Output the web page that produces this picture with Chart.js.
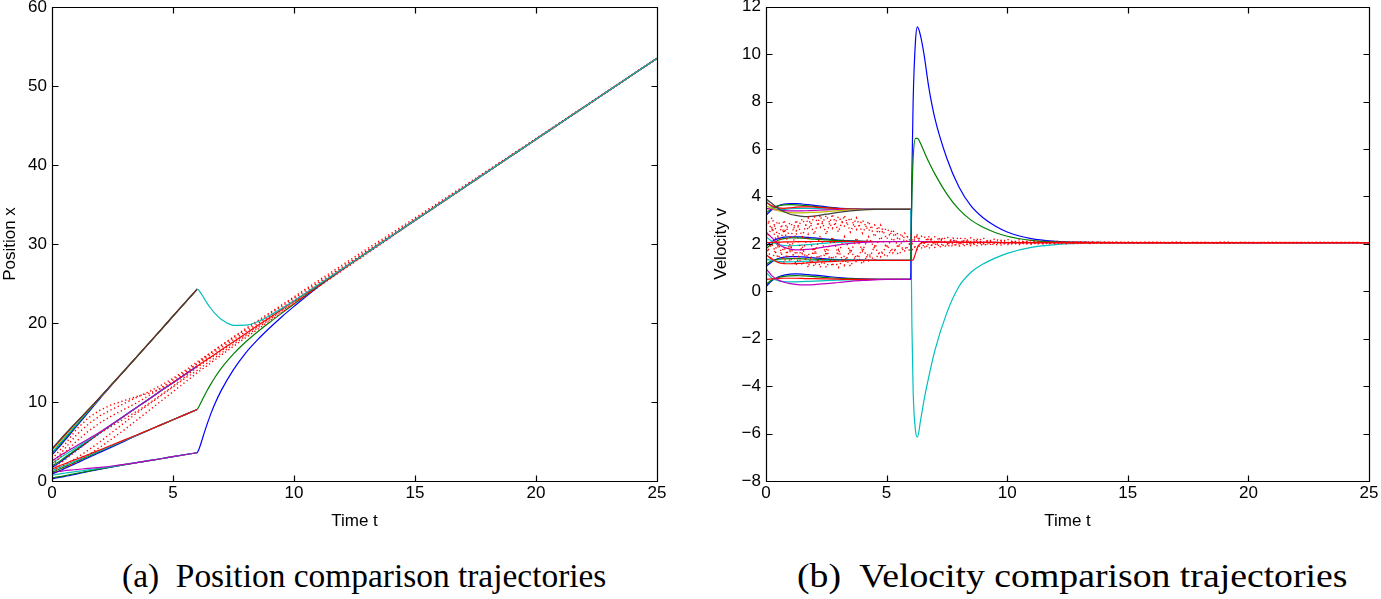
<!DOCTYPE html>
<html>
<head>
<meta charset="utf-8">
<script src="https://cdn.jsdelivr.net/npm/chart.js@4.4.1/dist/chart.umd.min.js"></script>
<style>
body { margin: 0; background: #fff; width: 1381px; height: 599px; overflow: hidden; position: relative; }
.box { position: absolute; top: -20px; height: 560px; }
#boxA { left: 0; width: 690px; }
#boxB { left: 711px; width: 670px; }
.cap { position: absolute; top: 560px; line-height: 1; font-family: "Liberation Serif", "Times New Roman", serif; font-size: 33px; white-space: nowrap; color: #000; transform-origin: 0 0; }
</style>
</head>
<body>
<div class="box" id="boxA"><canvas id="posChart"></canvas></div>
<div class="box" id="boxB"><canvas id="velChart"></canvas></div>
<div class="cap" id="capA" style="left:122px">(a)&nbsp; Position comparison trajectories</div>
<div class="cap" id="capB" style="left:797px">(b)&nbsp; Velocity comparison trajectories</div>
<script>
// time grids
const tEarly = [0, 0.25, 0.5, 0.75, 1, 1.25, 1.5, 1.75, 2, 2.5, 3, 3.5, 4, 4.5, 5, 6];
const tLate = [6, 6.05, 6.1, 6.2, 6.28, 6.4, 6.55, 6.75, 7, 7.5, 8, 8.5, 9, 9.5, 10, 11, 12, 13, 15, 20, 25];
const tPosDots = [0, 0.5, 1, 1.5, 2, 2.5, 3, 3.5, 4, 4.5, 5, 5.5, 6, 6.5, 7, 7.5, 8, 8.5, 9, 9.5, 10, 10.5, 11, 11.5, 12, 13, 14, 15, 17, 20, 25];
const tVelDots = [0, 0.25, 0.5, 0.75, 1, 1.25, 1.5, 1.75, 2, 2.25, 2.5, 2.75, 3, 3.25, 3.5, 3.75, 4, 4.25, 4.5, 4.75, 5, 5.25, 5.5, 5.75, 6,
  6.25, 6.5, 6.75, 7, 7.25, 7.5, 7.75, 8, 8.25, 8.5, 8.75, 9, 9.25, 9.5, 9.75, 10, 10.25, 10.5, 10.75, 11, 11.25, 11.5, 11.75, 12,
  12.25, 12.5, 12.75, 13, 13.25, 13.5, 13.75, 14, 14.25, 14.5, 14.75, 15, 16, 17, 18, 19, 20, 21, 22, 23, 24, 25];

// tick labels
const xTicks = [0, 5, 10, 15, 20, 25];
const posTicks = [0, 10, 20, 30, 40, 50, 60];
const velTicks = [-8, -6, -4, -2, 0, 2, 4, 6, 8, 10, 12];

// position, t in [0,6], four groups
const posA_k = [4.1, 4.95, 5.8, 6.62, 7.42, 8.22, 9.02, 9.83, 10.65, 12.33, 14.0, 15.7, 17.42, 19.14, 20.86, 24.3];
const posA_r = [4.0, 4.86, 5.72, 6.56, 7.38, 8.19, 9.0, 9.82, 10.64, 12.32, 14.0, 15.7, 17.42, 19.14, 20.86, 24.3];
const posA_y = [3.9, 4.78, 5.63, 6.48, 7.32, 8.15, 8.98, 9.8, 10.62, 12.31, 14.0, 15.7, 17.42, 19.14, 20.86, 24.3];
const posA_b = [3.3, 4.15, 5.05, 5.95, 6.87, 7.78, 8.7, 9.6, 10.5, 12.28, 14.0, 15.7, 17.42, 19.14, 20.86, 24.3];
const posA_g = [3.5, 4.35, 5.24, 6.13, 7.03, 7.93, 8.83, 9.72, 10.6, 12.32, 14.02, 15.71, 17.43, 19.14, 20.86, 24.3];
const posA_c = [3.6, 4.52, 5.4, 6.27, 7.14, 8.02, 8.9, 9.77, 10.64, 12.34, 14.03, 15.72, 17.43, 19.14, 20.86, 24.3];
const posB_m = [2.55, 3.05, 3.52, 3.98, 4.43, 4.88, 5.32, 5.77, 6.22, 7.24, 8.27, 9.32, 10.36, 11.41, 12.45, 14.54];
const posB_b = [1.7, 2.2, 2.75, 3.32, 3.88, 4.44, 5.01, 5.56, 6.11, 7.18, 8.25, 9.31, 10.36, 11.41, 12.45, 14.54];
const posB_g = [1.9, 2.38, 2.92, 3.46, 4.0, 4.54, 5.08, 5.62, 6.15, 7.21, 8.26, 9.32, 10.36, 11.41, 12.45, 14.54];
const posB_c = [2.2, 2.76, 3.25, 3.74, 4.22, 4.7, 5.19, 5.68, 6.18, 7.23, 8.27, 9.32, 10.36, 11.41, 12.45, 14.54];
const posC_b = [0.9, 1.2, 1.55, 1.9, 2.25, 2.6, 2.95, 3.3, 3.65, 4.35, 5.05, 5.75, 6.42, 7.1, 7.75, 9.05];
const posC_g = [1.1, 1.42, 1.75, 2.09, 2.43, 2.77, 3.11, 3.45, 3.79, 4.47, 5.14, 5.8, 6.45, 7.1, 7.75, 9.05];
const posC_c = [1.3, 1.63, 1.95, 2.27, 2.58, 2.9, 3.22, 3.54, 3.86, 4.5, 5.15, 5.8, 6.45, 7.1, 7.75, 9.05];
const posC_r = [1.5, 1.85, 2.16, 2.46, 2.75, 3.05, 3.35, 3.65, 3.96, 4.58, 5.2, 5.82, 6.46, 7.1, 7.75, 9.05];
const posD_b = [0.3, 0.42, 0.56, 0.72, 0.88, 1.04, 1.2, 1.35, 1.5, 1.78, 2.06, 2.32, 2.57, 2.82, 3.08, 3.58];
const posD_g = [0.4, 0.52, 0.66, 0.81, 0.96, 1.11, 1.26, 1.4, 1.54, 1.8, 2.07, 2.32, 2.57, 2.82, 3.08, 3.58];
const posD_c = [0.7, 0.86, 0.98, 1.09, 1.2, 1.3, 1.41, 1.52, 1.63, 1.86, 2.1, 2.34, 2.58, 2.82, 3.08, 3.58];
const posD_m = [1.05, 1.2, 1.3, 1.38, 1.45, 1.52, 1.59, 1.66, 1.73, 1.9, 2.1, 2.33, 2.57, 2.82, 3.08, 3.58];

// position, t in [6,25]
const posLate_cons = [14.54, 14.65, 14.76, 14.96, 15.13, 15.37, 15.68, 16.09, 16.6, 17.63, 18.65, 19.68, 20.7, 21.73, 22.75, 24.8, 26.85, 28.9, 33.0, 43.25, 53.5];
const posLate_c = [24.3, 24.2, 24.0, 23.55, 23.15, 22.55, 21.9, 21.15, 20.45, 19.7, 19.72, 20.15, 20.95, 21.85, 22.82, 24.83, 26.86, 28.9, 33.0, 43.25, 53.5];
const posLate_g = [9.05, 9.3, 9.6, 10.2, 10.7, 11.4, 12.2, 13.2, 14.3, 16.1, 17.6, 18.9, 20.1, 21.25, 22.4, 24.65, 26.8, 28.88, 33.0, 43.25, 53.5];
const posLate_b = [3.58, 3.85, 4.25, 5.2, 6.0, 7.1, 8.4, 9.9, 11.5, 14.1, 16.2, 17.9, 19.4, 20.8, 22.1, 24.6, 26.8, 28.88, 33.0, 43.25, 53.5];

// position, red dotted comparison runs
const posDot1 = [2.8, 4.5, 6.5, 8.0, 9.0, 9.7, 10.2, 10.7, 11.1, 11.7, 12.5, 13.6, 14.9, 16.1, 17.2, 18.25, 19.3, 20.3, 21.3, 22.3, 23.3, 24.35, 25.35, 26.35, 27.35, 29.35, 31.3, 33.3, 37.3, 43.35, 53.5];
const posDot5 = [2.2, 4.0, 5.8, 7.2, 8.3, 9.1, 9.85, 10.6, 11.3, 12.1, 13.0, 14.0, 15.1, 16.1, 17.15, 18.15, 19.15, 20.15, 21.15, 22.15, 23.15, 24.15, 25.15, 26.1, 27.1, 29.1, 31.1, 33.1, 37.15, 43.3, 53.5];
const posDot3 = [2.0, 3.5, 5.0, 6.3, 7.4, 8.3, 9.1, 9.9, 10.8, 11.8, 12.8, 13.8, 14.8, 15.85, 16.9, 17.9, 18.9, 19.9, 20.9, 21.9, 22.9, 23.9, 24.95, 25.95, 26.95, 29.0, 31.0, 33.05, 37.12, 43.27, 53.5];
const posDot4 = [1.6, 2.6, 3.8, 5.0, 6.1, 7.0, 7.9, 8.8, 9.8, 10.9, 12.0, 13.2, 14.4, 15.45, 16.5, 17.55, 18.55, 19.6, 20.6, 21.65, 22.7, 23.72, 24.75, 25.8, 26.82, 28.88, 30.93, 33.0, 37.1, 43.25, 53.5];
const posDot2 = [1.3, 2.0, 2.9, 3.9, 5.0, 6.2, 7.4, 8.6, 9.7, 10.8, 11.9, 13.0, 14.0, 15.1, 16.2, 17.3, 18.35, 19.4, 20.45, 21.5, 22.55, 23.6, 24.65, 25.7, 26.75, 28.85, 30.9, 32.97, 37.08, 43.24, 53.5];
const posDot6 = [0.9, 1.6, 2.4, 3.3, 4.3, 5.4, 6.5, 7.7, 8.9, 10.1, 11.3, 12.5, 13.7, 14.8, 15.95, 17.05, 18.15, 19.2, 20.3, 21.35, 22.45, 23.5, 24.55, 25.6, 26.65, 28.75, 30.85, 32.95, 37.07, 43.23, 53.5];

// velocity, t in [0,6]
const velA_k = [3.9, 3.7, 3.5, 3.35, 3.25, 3.2, 3.16, 3.15, 3.17, 3.25, 3.33, 3.39, 3.43, 3.45, 3.45, 3.45];
const velA_b = [3.2, 3.45, 3.6, 3.68, 3.7, 3.7, 3.68, 3.65, 3.62, 3.56, 3.51, 3.48, 3.46, 3.45, 3.45, 3.45];
const velA_g = [3.3, 3.5, 3.6, 3.64, 3.65, 3.64, 3.62, 3.6, 3.58, 3.53, 3.49, 3.47, 3.46, 3.45, 3.45, 3.45];
const velA_r = [3.75, 3.6, 3.52, 3.5, 3.52, 3.55, 3.56, 3.56, 3.55, 3.52, 3.49, 3.47, 3.46, 3.45, 3.45, 3.45];
const velA_y = [3.6, 3.5, 3.4, 3.35, 3.32, 3.31, 3.31, 3.32, 3.33, 3.36, 3.4, 3.43, 3.44, 3.45, 3.45, 3.45];
const velA_m = [3.5, 3.45, 3.42, 3.4, 3.39, 3.39, 3.39, 3.4, 3.41, 3.43, 3.44, 3.45, 3.45, 3.45, 3.45, 3.45];
const velA_c = [3.8, 3.55, 3.45, 3.45, 3.48, 3.5, 3.5, 3.5, 3.49, 3.47, 3.46, 3.45, 3.45, 3.45, 3.45, 3.45];
const velB_m = [2.5, 2.25, 2.0, 1.85, 1.78, 1.75, 1.75, 1.77, 1.8, 1.88, 1.96, 2.02, 2.06, 2.08, 2.09, 2.1];
const velB_b = [1.9, 2.1, 2.22, 2.28, 2.3, 2.3, 2.29, 2.27, 2.25, 2.2, 2.16, 2.13, 2.11, 2.1, 2.1, 2.1];
const velB_g = [1.8, 2.0, 2.15, 2.22, 2.25, 2.25, 2.24, 2.22, 2.2, 2.17, 2.14, 2.12, 2.11, 2.1, 2.1, 2.1];
const velB_r = [2.05, 2.06, 2.07, 2.08, 2.08, 2.09, 2.09, 2.09, 2.1, 2.1, 2.1, 2.1, 2.1, 2.1, 2.1, 2.1];
const velB_c = [2.3, 2.1, 1.98, 1.93, 1.92, 1.93, 1.95, 1.97, 1.99, 2.03, 2.06, 2.08, 2.09, 2.1, 2.1, 2.1];
const velC_b = [1.05, 1.25, 1.38, 1.44, 1.46, 1.46, 1.45, 1.43, 1.41, 1.37, 1.34, 1.32, 1.31, 1.3, 1.3, 1.3];
const velC_g = [1.15, 1.28, 1.35, 1.37, 1.38, 1.38, 1.37, 1.36, 1.35, 1.33, 1.32, 1.31, 1.3, 1.3, 1.3, 1.3];
const velC_r = [1.55, 1.35, 1.22, 1.17, 1.16, 1.17, 1.18, 1.2, 1.22, 1.25, 1.27, 1.29, 1.3, 1.3, 1.3, 1.3];
const velC_c = [1.35, 1.3, 1.26, 1.24, 1.24, 1.25, 1.26, 1.27, 1.28, 1.29, 1.3, 1.3, 1.3, 1.3, 1.3, 1.3];
const velD_b = [0.2, 0.45, 0.6, 0.68, 0.72, 0.73, 0.72, 0.7, 0.68, 0.63, 0.58, 0.54, 0.52, 0.51, 0.5, 0.5];
const velD_g = [0.3, 0.48, 0.58, 0.63, 0.65, 0.66, 0.65, 0.64, 0.62, 0.58, 0.55, 0.53, 0.51, 0.5, 0.5, 0.5];
const velD_m = [0.95, 0.65, 0.48, 0.38, 0.32, 0.29, 0.27, 0.27, 0.28, 0.32, 0.37, 0.42, 0.46, 0.48, 0.5, 0.5];
const velD_c = [0.8, 0.55, 0.45, 0.41, 0.4, 0.4, 0.41, 0.42, 0.43, 0.45, 0.47, 0.48, 0.49, 0.5, 0.5, 0.5];
const velD_r = [0.5, 0.52, 0.54, 0.55, 0.55, 0.55, 0.54, 0.53, 0.53, 0.52, 0.51, 0.5, 0.5, 0.5, 0.5, 0.5];

// velocity, t in [6,25]
const velLate_b = [0.5, 5.0, 8.0, 10.6, 11.15, 10.8, 10.0, 8.6, 7.3, 5.6, 4.4, 3.6, 3.1, 2.75, 2.5, 2.22, 2.11, 2.07, 2.05, 2.05, 2.05];
const velLate_g = [1.3, 4.0, 5.6, 6.45, 6.45, 6.25, 5.9, 5.45, 4.95, 4.1, 3.45, 3.0, 2.7, 2.48, 2.32, 2.15, 2.08, 2.06, 2.05, 2.05, 2.05];
const velLate_c = [3.45, -1.5, -4.2, -5.9, -6.15, -5.5, -4.6, -3.6, -2.5, -0.9, 0.2, 0.8, 1.15, 1.4, 1.6, 1.85, 1.97, 2.02, 2.05, 2.05, 2.05];
const velLate_r = [1.3, 1.3, 1.32, 1.6, 1.85, 2.02, 2.06, 2.07, 2.07, 2.07, 2.07, 2.06, 2.06, 2.06, 2.05, 2.05, 2.05, 2.05, 2.05, 2.05, 2.05];
const velLate_m = [2.1, 2.1, 2.1, 2.1, 2.1, 2.1, 2.09, 2.09, 2.08, 2.07, 2.07, 2.06, 2.06, 2.06, 2.05, 2.05, 2.05, 2.05, 2.05, 2.05, 2.05];

// velocity, red dotted comparison runs
const velDot1 = [3.05, 2.6, 2.95, 2.5, 2.9, 2.55, 3.05, 2.6, 3.15, 2.7, 3.2, 2.65, 3.15, 2.75, 3.1, 2.6, 3.0, 2.55, 2.8, 2.45, 2.65, 2.35, 2.45, 2.25, 2.35,
  2.2, 2.35, 2.15, 2.3, 2.12, 2.3, 2.1, 2.28, 2.1, 2.26, 2.08, 2.25, 2.08, 2.22, 2.07, 2.2, 2.07, 2.17, 2.06, 2.15, 2.06, 2.13, 2.06, 2.12,
  2.06, 2.1, 2.06, 2.1, 2.05, 2.09, 2.05, 2.08, 2.05, 2.08, 2.05, 2.07, 2.05, 2.07, 2.05, 2.07, 2.05, 2.06, 2.05, 2.06, 2.05, 2.05];
const velDot2 = [1.6, 2.0, 1.4, 1.85, 1.25, 1.7, 1.1, 1.6, 1.05, 1.55, 1.0, 1.5, 1.0, 1.5, 1.05, 1.55, 1.15, 1.6, 1.3, 1.7, 1.45, 1.8, 1.55, 1.85, 1.7,
  1.95, 1.8, 2.0, 1.85, 2.0, 1.87, 2.02, 1.9, 2.02, 1.92, 2.03, 1.93, 2.03, 1.95, 2.04, 1.96, 2.04, 1.97, 2.04, 1.98, 2.04, 1.99, 2.04, 2.0,
  2.05, 2.0, 2.05, 2.01, 2.05, 2.01, 2.05, 2.02, 2.05, 2.02, 2.05, 2.03, 2.05, 2.03, 2.05, 2.03, 2.05, 2.04, 2.05, 2.04, 2.05, 2.05];
const velDot3 = [2.2, 2.7, 1.9, 2.6, 1.7, 2.45, 1.6, 2.4, 1.55, 2.35, 1.5, 2.3, 1.55, 2.3, 1.6, 2.25, 1.7, 2.3, 1.8, 2.3, 1.85, 2.25, 1.9, 2.2, 1.95,
  2.3, 1.9, 2.25, 1.95, 2.2, 1.97, 2.17, 1.98, 2.16, 1.98, 2.15, 2.0, 2.13, 2.0, 2.12, 2.01, 2.1, 2.01, 2.1, 2.02, 2.09, 2.02, 2.08, 2.03,
  2.08, 2.03, 2.07, 2.03, 2.07, 2.03, 2.07, 2.04, 2.06, 2.04, 2.06, 2.04, 2.06, 2.04, 2.06, 2.04, 2.06, 2.05, 2.06, 2.04, 2.06, 2.05];
const velDot4 = [2.8, 3.1, 2.3, 3.0, 2.2, 3.0, 2.3, 3.1, 2.4, 3.2, 2.4, 3.25, 2.5, 3.2, 2.5, 3.1, 2.45, 2.95, 2.3, 2.8, 2.2, 2.6, 2.15, 2.45, 2.1,
  2.4, 2.0, 2.3, 2.0, 2.28, 2.0, 2.25, 2.0, 2.22, 2.0, 2.2, 2.01, 2.18, 2.02, 2.15, 2.02, 2.13, 2.03, 2.12, 2.03, 2.11, 2.03, 2.1, 2.04,
  2.09, 2.04, 2.08, 2.04, 2.08, 2.04, 2.07, 2.04, 2.07, 2.05, 2.07, 2.05, 2.07, 2.04, 2.06, 2.04, 2.06, 2.04, 2.06, 2.05, 2.06, 2.05];
const velDot5 = [1.9, 1.3, 2.1, 1.2, 2.0, 1.1, 1.9, 1.0, 1.85, 1.0, 1.8, 1.05, 1.75, 1.1, 1.8, 1.2, 1.85, 1.3, 1.9, 1.45, 1.95, 1.6, 2.0, 1.7, 2.05,
  1.75, 2.1, 1.8, 2.1, 1.85, 2.1, 1.88, 2.1, 1.9, 2.1, 1.92, 2.09, 1.94, 2.09, 1.95, 2.08, 1.97, 2.08, 1.98, 2.07, 1.99, 2.07, 2.0, 2.07,
  2.01, 2.07, 2.01, 2.06, 2.02, 2.06, 2.02, 2.06, 2.03, 2.06, 2.03, 2.06, 2.03, 2.06, 2.03, 2.06, 2.04, 2.06, 2.04, 2.06, 2.04, 2.05];

// MATLAB-style line colours
const colors = { b: '#0000ff', g: '#008000', r: '#ff0000', c: '#00bfbf', m: '#bf00bf', y: '#bfbf00', k: '#404040' };

const tickFont = { family: '"Liberation Sans", Arial, sans-serif', size: 17 };

function series(ts, ys, color, extra) {
    return Object.assign({
        data: ts.map((t, i) => ({ x: t, y: ys[i] })),
        borderColor: color,
        borderWidth: 1.2,
        pointRadius: 0,
        fill: false,
        cubicInterpolationMode: 'monotone'
    }, extra || {});
}

function dotted(ts, ys) {
    return series(ts, ys, colors.r, { borderDash: [1.3, 2.7], borderWidth: 1.4, cubicInterpolationMode: 'default', tension: 0 });
}

// box with inward tick marks on all four sides
const framePlugin = {
    id: 'frame',
    afterDatasetsDraw(chart) {
        const { ctx, chartArea: a, scales: { x, y } } = chart;
        const L = Math.round(a.left) + 0.5, R = Math.round(a.right) + 0.5;
        const T = Math.round(a.top) + 0.5, B = Math.round(a.bottom) + 0.5;
        ctx.save();
        ctx.strokeStyle = '#000';
        ctx.lineWidth = 1.2;
        ctx.beginPath();
        ctx.rect(L, T, R - L, B - T);
        x.ticks.forEach(tk => {
            const px = Math.round(x.getPixelForValue(tk.value)) + 0.5;
            ctx.moveTo(px, B); ctx.lineTo(px, B - 6);
            ctx.moveTo(px, T); ctx.lineTo(px, T + 6);
        });
        y.ticks.forEach(tk => {
            const py = Math.round(y.getPixelForValue(tk.value)) + 0.5;
            ctx.moveTo(L, py); ctx.lineTo(L + 6, py);
            ctx.moveTo(R, py); ctx.lineTo(R - 6, py);
        });
        ctx.stroke();
        ctx.restore();
    }
};

function makeChart(id, datasets, yTicks, yTitle, yWidth, pad) {
    const ctx = document.getElementById(id).getContext('2d');
    return new Chart(ctx, {
        type: 'line',
        data: { datasets: datasets },
        options: {
            responsive: true,
            maintainAspectRatio: false,
            animation: false,
            events: [],
            layout: { padding: pad },
            plugins: { legend: { display: false }, tooltip: { enabled: false } },
            scales: {
                x: {
                    type: 'linear',
                    min: xTicks[0],
                    max: xTicks[xTicks.length - 1],
                    afterBuildTicks: s => { s.ticks = xTicks.map(v => ({ value: v })); },
                    ticks: { font: tickFont, color: '#000', padding: 2, maxRotation: 0, autoSkip: false },
                    grid: { display: false, drawTicks: false },
                    border: { display: false },
                    title: { display: true, text: 'Time t', font: tickFont, color: '#000', padding: { top: 0, bottom: 8 } },
                    afterFit: s => { s.height = 59; }
                },
                y: {
                    type: 'linear',
                    min: yTicks[0],
                    max: yTicks[yTicks.length - 1],
                    afterBuildTicks: s => { s.ticks = yTicks.map(v => ({ value: v })); },
                    ticks: { font: tickFont, color: '#000', padding: 5, autoSkip: false,
                        callback: v => String(v).replace('-', '\u2212') },
                    grid: { display: false, drawTicks: false },
                    border: { display: false },
                    title: { display: true, text: yTitle, font: tickFont, color: '#000', padding: 0 },
                    afterFit: s => { s.width = yWidth; }
                }
            }
        },
        plugins: [framePlugin]
    });
}

// first dataset is drawn on top
const posSets = [
    series(tLate, posLate_c, colors.c),
    dotted(tPosDots, posDot1), dotted(tPosDots, posDot5), dotted(tPosDots, posDot3),
    dotted(tPosDots, posDot4), dotted(tPosDots, posDot2), dotted(tPosDots, posDot6),
    series(tLate, posLate_g, colors.g),
    series(tLate, posLate_b, colors.b),
    series(tLate, posLate_cons, colors.r),
    series(tEarly, posA_k, colors.k), series(tEarly, posA_r, colors.r), series(tEarly, posA_y, colors.y), series(tEarly, posA_c, colors.c),
    series(tEarly, posA_g, colors.g), series(tEarly, posA_b, colors.b),
    series(tEarly, posB_m, colors.m), series(tEarly, posB_c, colors.c), series(tEarly, posB_g, colors.g), series(tEarly, posB_b, colors.b),
    series(tEarly, posC_r, colors.r), series(tEarly, posC_c, colors.c), series(tEarly, posC_g, colors.g), series(tEarly, posC_b, colors.b),
    series(tEarly, posD_m, colors.m), series(tEarly, posD_c, colors.c), series(tEarly, posD_g, colors.g), series(tEarly, posD_b, colors.b)
];

const velSets = [
    dotted(tVelDots, velDot1), dotted(tVelDots, velDot2), dotted(tVelDots, velDot3),
    dotted(tVelDots, velDot4), dotted(tVelDots, velDot5),
    series(tLate, velLate_r, colors.r),
    series(tLate, velLate_m, colors.m),
    series(tLate, velLate_g, colors.g),
    series(tLate, velLate_b, colors.b),
    series(tLate, velLate_c, colors.c),
    series(tEarly, velA_k, colors.k), series(tEarly, velA_y, colors.y), series(tEarly, velA_m, colors.m), series(tEarly, velA_r, colors.r),
    series(tEarly, velA_c, colors.c), series(tEarly, velA_g, colors.g), series(tEarly, velA_b, colors.b),
    series(tEarly, velB_m, colors.m), series(tEarly, velB_r, colors.r), series(tEarly, velB_c, colors.c), series(tEarly, velB_g, colors.g), series(tEarly, velB_b, colors.b),
    series(tEarly, velC_r, colors.r), series(tEarly, velC_c, colors.c), series(tEarly, velC_g, colors.g), series(tEarly, velC_b, colors.b),
    series(tEarly, velD_m, colors.m), series(tEarly, velD_r, colors.r), series(tEarly, velD_c, colors.c), series(tEarly, velD_g, colors.g), series(tEarly, velD_b, colors.b)
];

makeChart('posChart', posSets, posTicks, 'Position x', 52, { top: 27, right: 33, left: 0, bottom: 0 });
makeChart('velChart', velSets, velTicks, 'Velocity v', 55, { top: 26.7, right: 12, left: 0, bottom: 0 });

// stretch each caption to the width it has in the figure
[['capA', 484], ['capB', 550]].forEach(([id, w]) => {
    const el = document.getElementById(id);
    el.style.transform = 'scaleX(' + (w / el.offsetWidth) + ')';
});
</script>
</body>
</html>
